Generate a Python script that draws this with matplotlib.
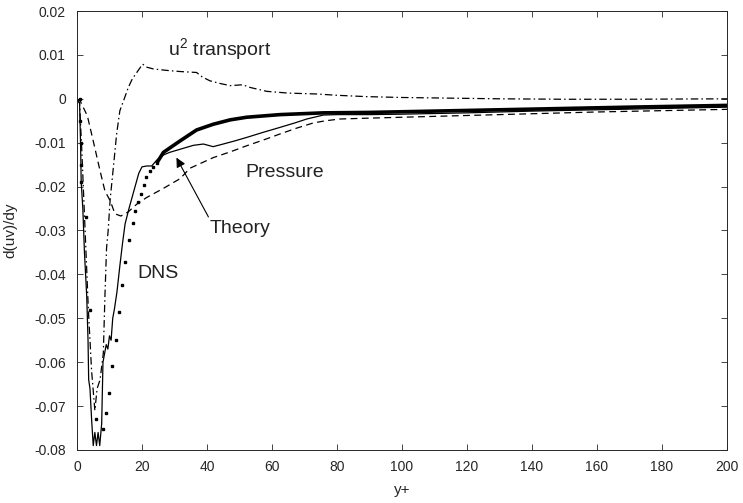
import numpy as np
import matplotlib
matplotlib.use("Agg")
import matplotlib.pyplot as plt

plt.rcParams['font.family'] = ['Liberation Sans', 'DejaVu Sans']

# DNS: sparse markers near the wall, dense (drawn as thick line) further out
dns_pts_x = [0.8, 1.0, 1.1, 1.2, 1.3, 2.7, 4.0, 5.8, 8.0, 8.9, 9.8, 10.8, 12.0, 12.9,
             13.8, 14.8, 16.1, 17.1, 17.9, 18.9, 19.7, 20.5, 21.2, 22.5, 23.5, 24.5]
dns_pts_y = [0.0, -0.005, -0.010, -0.015, -0.019, -0.027, -0.048, -0.073, -0.0752, -0.0715,
             -0.067, -0.0608, -0.0549, -0.0485, -0.0424, -0.0371, -0.0322, -0.0284, -0.0255,
             -0.0236, -0.0217, -0.0197, -0.0179, -0.0164, -0.0156, -0.0147]
dns_line_x = [24.5, 26.6, 31.7, 36.8, 41.9, 47.1, 52.2, 57.3, 62.5, 75.8, 90, 110, 130, 150, 170, 200]
dns_line_y = [-0.0147, -0.0122, -0.0096, -0.0071, -0.0058, -0.0048, -0.0042, -0.0039, -0.0036,
              -0.0032, -0.0031, -0.0028, -0.0025, -0.0022, -0.0019, -0.0015]

# Theory (thin solid)
theory_x = [0, 0.8, 1.1, 1.3, 1.8, 2.3, 3.0, 3.4, 3.6, 4.0, 4.5, 5.0, 5.5, 6.0, 6.5, 7.0, 7.6,
            8.0, 8.5, 9.0, 9.5, 10.0, 10.5, 11.0, 11.5, 12.3, 13.2, 14.0, 14.8, 16.0, 17.5,
            19.0, 20.0, 21.5, 23.0, 24.5, 26.6, 28.5, 31.7, 35.8, 38.9, 41.9, 45.0, 48.5,
            52.2, 57.0, 62.5, 67.0, 70.7, 75.8, 80, 90, 100, 120, 140, 160, 180, 200]
theory_y = [0, -0.001, -0.010, -0.019, -0.025, -0.035, -0.045, -0.055, -0.064, -0.066, -0.073,
            -0.079, -0.076, -0.079, -0.076, -0.079, -0.074, -0.060, -0.058, -0.056, -0.057,
            -0.054, -0.055, -0.050, -0.048, -0.044, -0.038, -0.033, -0.0285, -0.025, -0.021,
            -0.017, -0.0155, -0.0153, -0.0153, -0.014, -0.0128, -0.0122, -0.0115, -0.0106,
            -0.0103, -0.0109, -0.0103, -0.0096, -0.0088, -0.0077, -0.0065, -0.0055, -0.0046,
            -0.0037, -0.0036, -0.0036, -0.0035, -0.0032, -0.0028, -0.0025, -0.0022, -0.0019]

# u^2 transport (dash-dot)
u2_x = [0, 0.8, 1.5, 2.5, 3.5, 4.5, 5.5, 6.2, 7.1, 8.1, 8.6, 9.1, 9.6, 10.2, 11.2, 12.2, 13.2,
        14.3, 15.8, 17.0, 18.4, 20.2, 21.5, 23.5, 26.0, 28.6, 32.0, 36.8, 38.5, 40.9, 44.0,
        47.1, 51.0, 53.2, 58.4, 65.0, 73.7, 80, 89, 100, 110, 130, 150, 170, 200]
u2_y = [0, -0.001, -0.012, -0.030, -0.048, -0.062, -0.071, -0.066, -0.064, -0.058, -0.045,
        -0.034, -0.030, -0.023, -0.0156, -0.008, -0.0027, -0.0005, 0.0026, 0.0045, 0.006,
        0.0079, 0.0072, 0.0068, 0.0066, 0.0064, 0.0062, 0.006, 0.005, 0.0041, 0.0035, 0.003,
        0.0032, 0.0026, 0.0017, 0.0013, 0.0011, 0.0008, 0.0005, 0.0003, 0.0002, 0.0, -0.0001,
        -0.0001, 0.0]

# Pressure (dashed)
press_x = [0, 1.0, 3.2, 5.0, 7.1, 8.6, 10.2, 11.7, 13.5, 15.7, 18.4, 21.4, 26.6, 31.7, 34.8,
           41.9, 47.1, 52.2, 57.3, 62.5, 67.5, 72.7, 76.5, 80.9, 90, 100, 120, 140, 160, 180, 200]
press_y = [0, -0.0005, -0.0039, -0.0096, -0.0164, -0.021, -0.0232, -0.0262, -0.0267, -0.0258,
           -0.024, -0.0225, -0.0204, -0.0182, -0.0158, -0.0134, -0.0121, -0.0107, -0.0094,
           -0.0080, -0.0067, -0.0055, -0.0050, -0.0046, -0.0044, -0.0042, -0.0038, -0.0034,
           -0.0030, -0.0027, -0.0024]

fig = plt.figure(figsize=(7.43, 5.03), dpi=100)
ax = fig.add_axes([0.1036, 0.1054, 0.8749, 0.8727])

ax.plot(u2_x, u2_y, color='k', lw=0.9, dashes=[6, 2.5, 1.2, 2.5])
ax.plot(press_x, press_y, color='k', lw=0.9, dashes=[5.5, 3.5])
ax.plot(theory_x, theory_y, color='k', lw=0.9)
ax.plot(dns_line_x, dns_line_y, color='k', lw=2.6, solid_capstyle='butt')
ax.plot(dns_pts_x, dns_pts_y, 's', color='k', ms=1.8, mec='k', lw=0)

ax.set_xlim(0, 200)
ax.set_ylim(-0.08, 0.02)
ax.set_xticks(np.arange(0, 201, 20))
ax.set_yticks(np.arange(-0.08, 0.021, 0.01))
ax.set_yticklabels(['-0.08', '-0.07', '-0.06', '-0.05', '-0.04', '-0.03', '-0.02', '-0.01',
                    '0', '0.01', '0.02'])
ax.tick_params(direction='in', top=True, right=True, length=4, width=0.6,
               labelsize=10, colors='#262626')
ax.tick_params(axis='y', pad=8)
ax.tick_params(axis='x', pad=7)
for s in ax.spines.values():
    s.set_color('#262626')
    s.set_linewidth(0.7)

ax.set_xlabel('y+', fontsize=11, color='#262626', labelpad=7)
ax.set_ylabel('d(uv)/dy', fontsize=11, color='#262626', labelpad=12)

ax.text(28, 0.0098, r'u$^{\mathregular{2}}$ transport', fontsize=14, color='#222222')
ax.text(51.7, -0.0178, 'Pressure', fontsize=14, color='#222222')
ax.text(18.5, -0.0408, 'DNS', fontsize=14, color='#222222')
ax.annotate('Theory', xy=(30.6, -0.0134), xytext=(40.9, -0.0305), fontsize=14,
            color='#222222',
            arrowprops=dict(arrowstyle='-|>', color='k', lw=0.8, mutation_scale=14,
                            shrinkA=0, shrinkB=0, relpos=(0.0, 1.0)))

fig.savefig('out.png', dpi=100)
